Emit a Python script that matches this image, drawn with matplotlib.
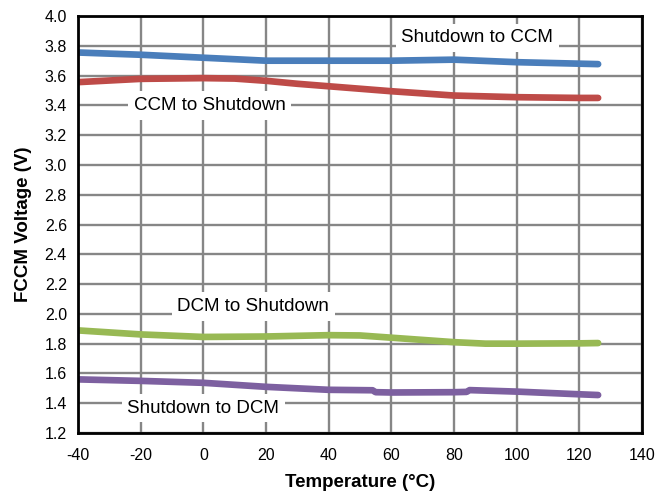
import matplotlib
matplotlib.use("Agg")
import matplotlib.pyplot as plt

plt.rcParams['font.family'] = ['Liberation Sans', 'DejaVu Sans']

# Data
temp_blue = [-40, -20, 0, 20, 40, 60, 80, 100, 120, 126]
v_shutdown_to_ccm = [3.755, 3.74, 3.72, 3.70, 3.70, 3.70, 3.707, 3.69, 3.68, 3.677]

temp_red = [-40, -20, 0, 10, 20, 30, 45, 60, 80, 100, 120, 126]
v_ccm_to_shutdown = [3.556, 3.578, 3.583, 3.58, 3.565, 3.545, 3.52, 3.495, 3.466, 3.455, 3.45, 3.45]

temp_green = [-40, -20, 0, 20, 40, 50, 60, 80, 90, 100, 120, 126]
v_dcm_to_shutdown = [1.889, 1.862, 1.845, 1.848, 1.857, 1.855, 1.84, 1.81, 1.80, 1.80, 1.802, 1.804]

temp_purple = [-40, -20, 0, 20, 40, 54, 55, 60, 80, 84, 85, 100, 120, 126]
v_shutdown_to_dcm = [1.56, 1.55, 1.537, 1.51, 1.49, 1.487, 1.474, 1.472, 1.474, 1.476, 1.488, 1.478, 1.46, 1.455]

labels = ["Shutdown to CCM", "CCM to Shutdown", "DCM to Shutdown", "Shutdown to DCM"]
label_pos = [(87.4, 3.853), (2.1, 3.40), (15.9, 2.05), (0.0, 1.367)]
colors = ["#4A7EBB", "#BE4B48", "#98B954", "#7D60A0"]

xticks = list(range(-40, 141, 20))
yticks = [1.2 + 0.2 * i for i in range(15)]

fig = plt.figure(figsize=(6.65, 4.93), dpi=100)
ax = fig.add_axes([0.1173, 0.1217, 0.8481, 0.8458])

series = [(temp_blue, v_shutdown_to_ccm), (temp_red, v_ccm_to_shutdown),
          (temp_green, v_dcm_to_shutdown), (temp_purple, v_shutdown_to_dcm)]
for (t, v), c in zip(series, colors):
    ax.plot(t, v, color=c, lw=4.8, solid_capstyle='round', solid_joinstyle='round', zorder=3)

ax.set_xlim(-40, 140)
ax.set_ylim(1.2, 4.0)
ax.set_xticks(xticks)
ax.set_yticks(yticks)
ax.set_xticklabels([str(x) for x in xticks])
ax.set_yticklabels([f"{y:.1f}" for y in yticks])
ax.tick_params(axis='x', length=0, labelsize=11.5, pad=10.5)
ax.tick_params(axis='y', length=0, labelsize=11.5, pad=8)
ax.grid(True, color="#868686", lw=1.7, zorder=1)
ax.set_axisbelow(True)
for s in ax.spines.values():
    s.set_linewidth(2.0)
    s.set_color("black")
    s.set_zorder(5)

for lab, (x, y) in zip(labels, label_pos):
    ax.text(x, y, lab, ha='center', va='center', fontsize=13.5, zorder=4,
            bbox=dict(boxstyle='square,pad=0.3', fc='white', ec='none'))

ax.set_xlabel("Temperature (°C)", fontsize=13.5, fontweight='bold', labelpad=8)
ax.set_ylabel("FCCM Voltage (V)", fontsize=13.5, fontweight='bold', labelpad=9)

fig.savefig("out.png", dpi=100)
